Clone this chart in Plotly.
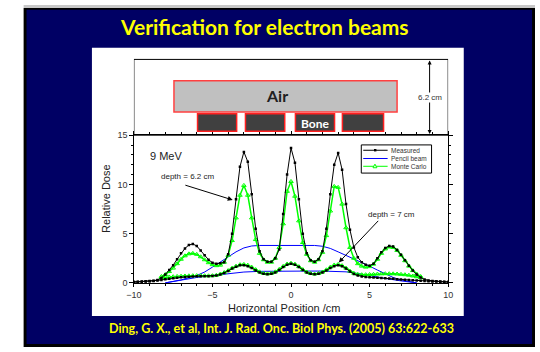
import numpy as np
import plotly.graph_objects as go

W, H = 540, 352

# ---------------- data ----------------
pos_meas = np.round(np.arange(-10, 10.001, 0.25), 2)
meas_62 = [0.10, 0.12, 0.14, 0.16, 0.18, 0.22, 0.30, 0.50, 0.85, 1.30, 1.80, 2.40, 3.00, 3.50, 3.85, 3.95,
           3.75, 3.30, 2.80, 2.35, 2.05, 1.95, 2.00, 2.10, 2.90, 5.00, 8.50, 11.80, 13.30, 12.30, 9.00, 5.50,
           3.20, 2.40, 2.15, 2.15, 2.50, 3.40, 7.00, 11.00, 13.70, 12.20, 8.50, 5.00, 3.00, 2.30, 2.15, 2.40,
           3.20, 5.50, 9.00, 12.00, 13.20, 11.50, 8.00, 5.40, 3.60, 2.60, 2.10, 1.85, 1.75, 1.95, 2.50, 3.10,
           3.55, 3.75, 3.70, 3.35, 2.85, 2.30, 1.75, 1.25, 0.85, 0.55, 0.35, 0.25, 0.20, 0.17, 0.14, 0.12, 0.10]
meas_70 = [0.08, 0.10, 0.12, 0.14, 0.16, 0.20, 0.25, 0.30, 0.36, 0.42, 0.48, 0.53, 0.57, 0.60, 0.63, 0.65,
           0.67, 0.68, 0.68, 0.68, 0.70, 0.75, 0.85, 1.00, 1.20, 1.45, 1.65, 1.78, 1.80, 1.70, 1.50, 1.25,
           1.05, 0.92, 0.88, 0.92, 1.05, 1.30, 1.60, 1.85, 1.95, 1.85, 1.60, 1.30, 1.05, 0.92, 0.88, 0.92,
           1.05, 1.25, 1.50, 1.70, 1.80, 1.70, 1.45, 1.15, 0.90, 0.75, 0.65, 0.60, 0.57, 0.55, 0.53, 0.50,
           0.48, 0.45, 0.42, 0.38, 0.35, 0.32, 0.30, 0.27, 0.25, 0.22, 0.20, 0.17, 0.15, 0.13, 0.11, 0.10, 0.08]

pos_mc = np.round(np.arange(-8.25, 8.251, 0.25), 2)
mc_62 = [0.65, 0.85, 1.15, 1.50, 1.95, 2.40, 2.75, 2.95, 3.00, 2.90, 2.65, 2.35, 2.05, 1.85, 1.75, 1.80,
         2.10, 2.80, 4.30, 6.60, 8.90, 9.90, 8.90, 6.60, 4.40, 3.00, 2.35, 2.10, 2.10, 2.50, 3.60, 6.00,
         9.30, 10.30, 8.80, 6.30, 4.10, 2.90, 2.25, 2.10, 2.35, 3.10, 4.80, 7.30, 9.80, 9.70, 8.00, 5.60,
         3.60, 2.50, 1.95, 1.70, 1.60, 1.65, 1.90, 2.40, 3.00, 3.45, 3.65, 3.60, 3.30, 2.80, 2.25, 1.70,
         1.25, 0.90, 0.65]
mc_70 = [0.50, 0.55, 0.60, 0.63, 0.66, 0.68, 0.70, 0.72, 0.73, 0.74, 0.74, 0.73, 0.72, 0.73, 0.78, 0.90,
         1.05, 1.25, 1.50, 1.70, 1.85, 1.88, 1.80, 1.60, 1.35, 1.12, 0.97, 0.92, 0.97, 1.12, 1.38, 1.68,
         1.92, 2.00, 1.90, 1.65, 1.35, 1.10, 0.95, 0.90, 0.95, 1.10, 1.33, 1.60, 1.82, 1.88, 1.75, 1.50,
         1.20, 0.98, 0.87, 0.83, 0.83, 0.85, 0.87, 0.90, 0.92, 0.93, 0.93, 0.92, 0.90, 0.87, 0.83, 0.78,
         0.70, 0.62, 0.52]

pos_pb62 = [-8, -7, -6, -5.5, -5, -4.5, -4, -3.5, -3, -2.5, -2, -1, 0, 1, 1.5, 2, 2.5, 3, 3.5, 4, 4.5, 5,
            5.5, 6, 6.5, 7, 7.5, 8]
pb_62 = [0.0, 0.3, 0.75, 1.1, 1.6, 2.1, 2.6, 3.15, 3.55, 3.75, 3.8, 3.82, 3.82, 3.82, 3.8, 3.72, 3.5, 3.15,
         2.8, 2.4, 2.05, 1.7, 1.3, 0.9, 0.55, 0.3, 0.12, 0.0]
pos_pb70 = [-8, -7, -6, -5, -4, -3, -2, -1, 0, 1, 2, 3, 3.5, 4, 4.5, 5, 5.5, 6, 6.5, 7, 7.5, 8]
pb_70 = [0.0, 0.3, 0.55, 0.75, 0.95, 1.1, 1.17, 1.2, 1.2, 1.2, 1.2, 1.18, 1.12, 1.02, 0.9, 0.75, 0.6, 0.45,
         0.3, 0.2, 0.1, 0.0]

x_ticks = [-10, -5, 0, 5, 10]
y_ticks = [0, 5, 10, 15]

# schematic geometry (cm along the horizontal axis)
air_span = (-7.45, 6.75)
bone_spans = [(-5.95, -3.46), (-2.9, -0.4), (0.28, 2.77), (3.27, 5.89)]

NAVY = "#000064"
YEL = "#ffff00"
GREEN = "#00ff00"
FONT = "Liberation Sans"
TFONT = "Lato"


def fx(px):
    return px / W


def fy(py):
    return 1 - py / H


fig = go.Figure()

fig.add_trace(go.Scatter(x=pos_pb62, y=pb_62, mode="lines", line=dict(color="#0000ff", width=1), showlegend=False))
fig.add_trace(go.Scatter(x=pos_pb70, y=pb_70, mode="lines", line=dict(color="#0000ff", width=1), showlegend=False))
for yy in (mc_62, mc_70):
    fig.add_trace(go.Scatter(x=pos_mc, y=yy, mode="lines+markers",
                             line=dict(color=GREEN, width=1.5),
                             marker=dict(symbol="triangle-up-open", size=4, color=GREEN, line=dict(width=1)),
                             showlegend=False))
for yy in (meas_62, meas_70):
    fig.add_trace(go.Scatter(x=pos_meas, y=yy, mode="lines+markers",
                             line=dict(color="#000000", width=1),
                             marker=dict(symbol="square", size=2.5, color="#000000"),
                             showlegend=False))

shapes = [
    dict(type="rect", xref="paper", yref="paper", x0=fx(16), x1=fx(540), y0=fy(0), y1=fy(3),
         fillcolor="#c8c8c8", line=dict(width=0), layer="below"),
    dict(type="rect", xref="paper", yref="paper", x0=fx(16), x1=fx(540), y0=fy(3), y1=fy(352),
         fillcolor="#000000", line=dict(width=0), layer="below"),
    dict(type="rect", xref="paper", yref="paper", x0=fx(19), x1=fx(537), y0=fy(5), y1=fy(349),
         fillcolor=NAVY, line=dict(width=0), layer="below"),
    dict(type="rect", xref="paper", yref="paper", x0=fx(86), x1=fx(467), y0=fy(44), y1=fy(320),
         fillcolor="#ffffff", line=dict(width=0), layer="below"),
    # schematic frame
    dict(type="rect", xref="x", yref="paper", x0=-10, x1=10, y0=fy(134), y1=fy(56),
         line=dict(color="#000000", width=1), fillcolor="rgba(0,0,0,0)"),
    dict(type="rect", xref="x", yref="paper", x0=air_span[0], x1=air_span[1], y0=fy(110), y1=fy(78),
         fillcolor="#c0c0c0", line=dict(color="#ff4040", width=1.5)),
]
for a, b in bone_spans:
    shapes.append(dict(type="rect", xref="x", yref="paper", x0=a, x1=b, y0=fy(130), y1=fy(112),
                       fillcolor="#404040", line=dict(color="#ff2020", width=1.5)))

# manual legend
lx0, lx1, ly0, ly1 = 362, 434, 144, 173
shapes.append(dict(type="rect", xref="paper", yref="paper", x0=fx(lx0), x1=fx(lx1), y0=fy(ly1), y1=fy(ly0),
                   fillcolor="#ffffff", line=dict(color="#000000", width=1)))
rows = [("Measured", "#000000", 149.5), ("Pencil beam", "#0000ff", 158), ("Monte Carlo", GREEN, 166)]
for name, col, ry in rows:
    shapes.append(dict(type="line", xref="paper", yref="paper", x0=fx(364), x1=fx(389), y0=fy(ry), y1=fy(ry),
                       line=dict(color=col, width=1)))
shapes.append(dict(type="rect", xref="paper", yref="paper", x0=fx(375), x1=fx(377.5), y0=fy(150.7), y1=fy(148.2),
                   fillcolor="#000000", line=dict(width=0)))
shapes.append(dict(type="path", xref="paper", yref="paper",
                   path=f"M {fx(374)} {fy(167.5)} L {fx(378)} {fy(167.5)} L {fx(376)} {fy(163.8)} Z",
                   fillcolor="#ffffff", line=dict(color=GREEN, width=1)))

annotations = [
    dict(text="<b>Verification for electron beams</b>", xref="paper", yref="paper", x=fx(263), y=fy(22),
         showarrow=False, font=dict(family=TFONT, size=21, color=YEL), xanchor="center", yanchor="middle"),
    dict(text="<b>Ding, G. X., et al, Int. J. Rad. Onc. Biol Phys. (2005) 63:622-633</b>", xref="paper",
         yref="paper", x=fx(280), y=fy(333), showarrow=False, font=dict(family=TFONT, size=12.5, color=YEL),
         xanchor="center", yanchor="middle"),
    dict(text="<b>Air</b>", xref="paper", yref="paper", x=fx(276), y=fy(93), showarrow=False,
         font=dict(family=TFONT, size=16, color="#202020"), xanchor="center", yanchor="middle"),
    dict(text="<b>Bone</b>", xref="x", yref="paper", x=sum(bone_spans[2]) / 2, y=fy(122), showarrow=False,
         font=dict(family=TFONT, size=12, color="#ffffff"), xanchor="center", yanchor="middle"),
    # 6.2 cm double arrow
    dict(text="", xref="x", yref="paper", x=8.82, y=fy(57), ax=0, ay=75, showarrow=True, arrowhead=2,
         arrowsize=0.8, arrowwidth=1, arrowside="end+start", arrowcolor="#000000", standoff=0, startstandoff=0),
    dict(text="6.2 cm", xref="x", yref="paper", x=8.82, y=fy(95), showarrow=False, bgcolor="#ffffff",
         font=dict(family=FONT, size=8, color="#333333"), xanchor="center", yanchor="middle", borderpad=0),
    dict(text="9 MeV", xref="paper", yref="paper", x=fx(162), y=fy(155), showarrow=False,
         font=dict(family=FONT, size=11, color="#222222"), xanchor="center", yanchor="middle"),
    dict(text="depth = 6.2 cm", xref="paper", yref="paper", x=fx(184), y=fy(177), showarrow=False,
         font=dict(family=FONT, size=8, color="#222222"), xanchor="center", yanchor="middle"),
    dict(text="", xref="x", yref="y", x=-3.71, y=8.42, axref="x", ayref="y", ax=-6.82, ay=9.97,
         showarrow=True, arrowhead=2, arrowsize=1, arrowwidth=1, arrowcolor="#000000"),
    dict(text="depth = 7 cm", xref="paper", yref="paper", x=fx(393), y=fy(216), showarrow=False,
         font=dict(family=FONT, size=8, color="#222222"), xanchor="center", yanchor="middle"),
    dict(text="", xref="x", yref="y", x=3.04, y=2.07, axref="x", ayref="y", ax=5.64, ay=6.45,
         showarrow=True, arrowhead=2, arrowsize=1, arrowwidth=1, arrowcolor="#000000"),
    dict(text="Relative Dose", xref="paper", yref="paper", x=fx(101), y=fy(200), showarrow=False,
         textangle=-90, font=dict(family=FONT, size=11, color="#222222"), xanchor="center", yanchor="middle"),
    dict(text="Horizontal Position /cm", xref="paper", yref="paper", x=fx(283), y=fy(312), showarrow=False,
         font=dict(family=FONT, size=11, color="#222222"), xanchor="center", yanchor="middle"),
]
for name, col, ry in rows:
    annotations.append(dict(text=name, xref="paper", yref="paper", x=fx(390), y=fy(ry), showarrow=False,
                            font=dict(family=FONT, size=6.5, color="#333333"), xanchor="left", yanchor="middle"))

axis_common = dict(showline=True, linecolor="#000000", linewidth=1, mirror="ticks", ticks="outside",
                   ticklen=3.5, tickcolor="#000000", showgrid=False, zeroline=False,
                   tickfont=dict(family=FONT, size=9, color="#333333"))
fig.update_layout(
    width=W, height=H, margin=dict(l=0, r=0, t=0, b=0),
    paper_bgcolor="#ffffff", plot_bgcolor="rgba(0,0,0,0)",
    showlegend=False, hovermode=False,
    xaxis=dict(domain=[fx(129), fx(451)], range=[-10, 10], tickvals=x_ticks,
               minor=dict(dtick=1, ticks="outside", ticklen=2, tickcolor="#000000"), **axis_common),
    yaxis=dict(domain=[fy(286), fy(134)], range=[0, 15], tickvals=y_ticks,
               minor=dict(dtick=1, ticks="outside", ticklen=2, tickcolor="#000000"), **axis_common),
    shapes=shapes, annotations=annotations,
)

fig.write_html("out.html", config={"displayModeBar": False, "staticPlot": True},
               post_script="document.body.style.margin='0px';document.body.style.overflow='hidden';"
                           "document.documentElement.style.overflow='hidden';")
